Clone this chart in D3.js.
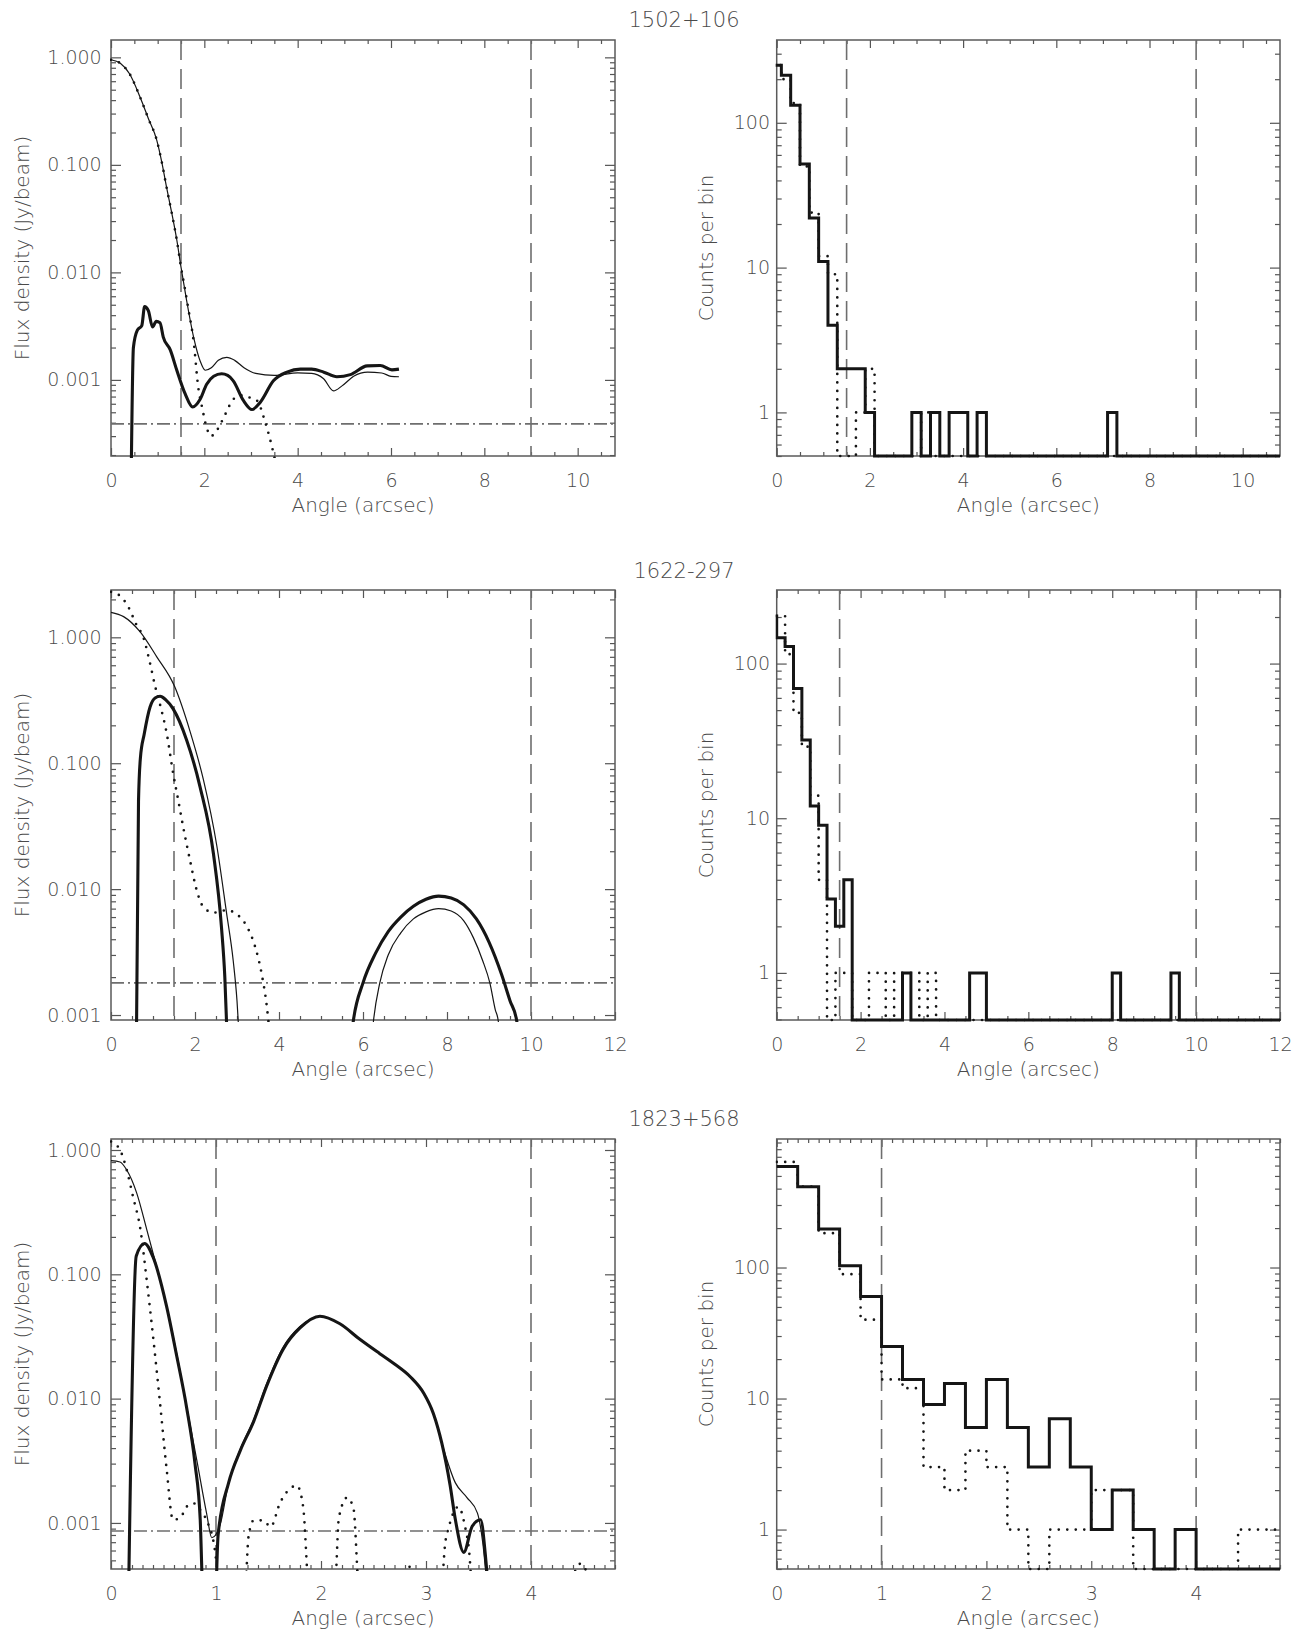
<!DOCTYPE html>
<html>
<head>
<meta charset="utf-8">
<script src="https://cdn.jsdelivr.net/npm/d3@7"></script>
<style>
  html, body { margin: 0; padding: 0; background: #fff; }
  svg { display: block; }
  text { font-family: "DejaVu Sans", sans-serif; font-weight: 300; fill: #4a4a4a; }
  .axis text { font-size: 19px; }
  .axis line { stroke-width: 1.2; }
  .title { font-size: 21px; }
  .axis-title { font-size: 20px; }
</style>
</head>
<body>
<svg id="fig" width="1302" height="1634"></svg>
<script>
// ---------------------------------------------------------------------------
// Sources, axis ranges and reference radii
// ---------------------------------------------------------------------------
const sourceNames = ["1502+106", "1622-297", "1823+568"];
const angleMax = [10.8, 12, 4.8];
const angleMajorTicks = [[0, 2, 4, 6, 8, 10], [0, 2, 4, 6, 8, 10, 12], [0, 1, 2, 3, 4]];
const angleMinorStep = [0.5, 0.5, 0.1];
const fluxDomain = [[0.000196, 1.45], [0.000913, 2.376], [0.000426, 1.226]];
const countDomain = [[0.5, 373], [0.496, 299], [0.5, 957]];
const fluxTicks = [0.001, 0.01, 0.1, 1];
const fluxTickLabels = ["0.001", "0.010", "0.100", "1.000"];
const countTicks = [1, 10, 100];
const countTickLabels = ["1", "10", "100"];
const innerRadius = [1.5, 1.5, 1];
const outerRadius = [9, 10, 4];
const noiseFloor = [0.00039, 0.0018, 0.00086];

// ---------------------------------------------------------------------------
// 1502+106 radial flux profiles (arcsec, Jy/beam)
// ---------------------------------------------------------------------------
const p1SourceAngle = [0, 0.2, 0.4, 0.62, 0.8, 0.98, 1.1, 1.19, 1.3, 1.41, 1.5, 1.62, 1.77, 1.91, 2.02, 2.15, 2.3, 2.48, 2.65, 2.85, 3.1, 3.5, 4.0, 4.3, 4.55, 4.77, 4.95, 5.2, 5.5, 5.8, 6.0, 6.17];
const p1SourceFlux = [0.95, 0.88, 0.70, 0.43, 0.27, 0.17, 0.10, 0.062, 0.036, 0.020, 0.0112, 0.0055, 0.0025, 0.0015, 0.00123, 0.0013, 0.00152, 0.00162, 0.00152, 0.0013, 0.00115, 0.0011, 0.00116, 0.00115, 0.00103, 0.00079, 0.00088, 0.00108, 0.00118, 0.00116, 0.00108, 0.00107];
const p1ExtAngle = [0.43, 0.48, 0.565, 0.66, 0.72, 0.80, 0.89, 0.97, 1.05, 1.12, 1.27, 1.41, 1.59, 1.75, 1.91, 2.05, 2.2, 2.37, 2.5, 2.62, 2.84, 3.02, 3.2, 3.48, 3.77, 4.06, 4.3, 4.56, 4.84, 5.13, 5.49, 5.77, 6.02, 6.17];
const p1ExtFlux = [0.0001, 0.0020, 0.0029, 0.0032, 0.0048, 0.0044, 0.0031, 0.0035, 0.0034, 0.0025, 0.0019, 0.00123, 0.00074, 0.00056, 0.00066, 0.00091, 0.00108, 0.00114, 0.0011, 0.00098, 0.00064, 0.00053, 0.00062, 0.00098, 0.00118, 0.00126, 0.00126, 0.00118, 0.00107, 0.00112, 0.00135, 0.00136, 0.00124, 0.00126];
const p1PsfAngle = [0, 0.2, 0.4, 0.62, 0.8, 0.98, 1.1, 1.19, 1.3, 1.41, 1.5, 1.58, 1.66, 1.77, 1.87, 1.95, 2.05, 2.14, 2.27, 2.45, 2.62, 2.8, 2.95, 3.13, 3.30, 3.48, 3.6];
const p1PsfFlux = [0.95, 0.88, 0.70, 0.43, 0.27, 0.17, 0.10, 0.062, 0.036, 0.020, 0.0112, 0.0072, 0.0045, 0.0023, 0.00085, 0.00056, 0.00036, 0.0003, 0.00034, 0.00048, 0.00066, 0.00072, 0.00069, 0.00064, 0.00041, 0.00021, 0.00012];

// ---------------------------------------------------------------------------
// 1622-297 radial flux profiles
// ---------------------------------------------------------------------------
const p2SourceAngle = [0, 0.3, 0.69, 1.09, 1.51, 1.88, 2.2, 2.52, 2.75, 2.91, 3.0, 3.06];
const p2SourceFlux = [1.58, 1.46, 1.11, 0.70, 0.41, 0.18, 0.074, 0.022, 0.0065, 0.0027, 0.0013, 0.0006];
const p2ExtAngle = [0.60, 0.655, 0.70, 0.79, 0.93, 1.05, 1.17, 1.3, 1.48, 1.80, 2.12, 2.44, 2.63, 2.71, 2.77];
const p2ExtFlux = [0.0004, 0.05, 0.11, 0.17, 0.28, 0.33, 0.34, 0.32, 0.27, 0.153, 0.065, 0.019, 0.005, 0.002, 0.0006];
const p2PsfAngle = [0, 0.25, 0.41, 0.61, 0.77, 0.93, 1.05, 1.17, 1.33, 1.48, 1.6, 1.72, 1.88, 2.04, 2.2, 2.44, 2.75, 3.07, 3.27, 3.43, 3.59, 3.71, 3.78];
const p2PsfFlux = [2.3, 2.08, 1.75, 1.25, 1.0, 0.62, 0.41, 0.29, 0.17, 0.083, 0.051, 0.031, 0.017, 0.0098, 0.0072, 0.0065, 0.0068, 0.006, 0.0048, 0.0035, 0.0021, 0.00117, 0.0007];
// outer component around 8 arcsec
const p2OuterSourceAngle = [6.18, 6.25, 6.4, 6.6, 6.9, 7.2, 7.5, 7.8, 8.1, 8.4, 8.63, 8.85, 9.02, 9.15, 9.22, 9.27];
const p2OuterSourceFlux = [0.0005, 0.0009, 0.0018, 0.0030, 0.0045, 0.0058, 0.0066, 0.0070, 0.0067, 0.0056, 0.0041, 0.0027, 0.0018, 0.0011, 0.0009, 0.0006];
const p2OuterExtAngle = [5.68, 5.77, 6.0, 6.3, 6.6, 6.9, 7.2, 7.5, 7.8, 8.1, 8.4, 8.7, 9.0, 9.3, 9.5, 9.66, 9.72];
const p2OuterExtFlux = [0.0005, 0.0009, 0.0018, 0.0031, 0.0046, 0.0060, 0.0073, 0.0083, 0.0088, 0.0085, 0.0075, 0.0058, 0.0038, 0.0021, 0.0013, 0.0009, 0.0006];

// ---------------------------------------------------------------------------
// 1823+568 radial flux profiles
// ---------------------------------------------------------------------------
const p3SourceAngle = [0, 0.086, 0.15, 0.245, 0.34, 0.435, 0.53, 0.626, 0.72, 0.817, 0.91, 0.96, 1.04, 1.12, 1.23, 1.36, 1.48, 1.64, 1.80, 1.99, 2.18, 2.37, 2.56, 2.7, 2.85, 2.98, 3.07, 3.15, 3.28, 3.39, 3.49, 3.54, 3.6];
const p3SourceFlux = [0.82, 0.80, 0.69, 0.45, 0.23, 0.115, 0.055, 0.023, 0.0087, 0.0032, 0.0012, 0.00076, 0.00097, 0.0021, 0.0039, 0.0068, 0.013, 0.026, 0.038, 0.046, 0.040, 0.030, 0.023, 0.019, 0.015, 0.011, 0.0076, 0.0044, 0.0021, 0.0016, 0.0012, 0.0007, 0.0002];
const p3ExtAngle = [0.16, 0.24, 0.32, 0.40, 0.53, 0.626, 0.72, 0.80, 0.85, 0.88, 0.98, 1.02, 1.12, 1.23, 1.36, 1.48, 1.64, 1.80, 1.99, 2.18, 2.37, 2.56, 2.7, 2.85, 2.98, 3.07, 3.15, 3.23, 3.28, 3.36, 3.44, 3.52, 3.57, 3.63];
const p3ExtFlux = [0.0001, 0.14, 0.177, 0.138, 0.055, 0.022, 0.0085, 0.003, 0.00105, 0.0002, 0.0001, 0.0008, 0.0021, 0.0038, 0.0066, 0.0125, 0.025, 0.037, 0.046, 0.040, 0.030, 0.023, 0.019, 0.015, 0.011, 0.0076, 0.0044, 0.0020, 0.00106, 0.00058, 0.00094, 0.00106, 0.0005, 0.0001];
const p3PsfAngle = [0.0, 0.086, 0.15, 0.21, 0.28, 0.34, 0.40, 0.467, 0.53, 0.59, 0.66, 0.72, 0.785, 0.85, 0.91, 0.99, 1.03, 1.15, 1.28, 1.31, 1.36, 1.45, 1.52, 1.61, 1.71, 1.77, 1.83, 1.88, 2.0, 2.135, 2.17, 2.25, 2.31, 2.36, 2.6, 2.8, 2.85, 2.9, 3.0, 3.15, 3.18, 3.22, 3.31, 3.37, 3.41, 3.44, 3.7, 4.4, 4.47, 4.55, 4.7];
const p3PsfFlux = [1.17, 1.0, 0.69, 0.42, 0.23, 0.09, 0.032, 0.0092, 0.0027, 0.00106, 0.0011, 0.00135, 0.00144, 0.00127, 0.00105, 0.0006, 0.0003, 0.0001, 0.0003, 0.00078, 0.00105, 0.00105, 0.00093, 0.00145, 0.0019, 0.0020, 0.00135, 0.0003, 0.0001, 0.0003, 0.0011, 0.0016, 0.0013, 0.0003, 0.0001, 0.0003, 0.00045, 0.0003, 0.0001, 0.0003, 0.00065, 0.00094, 0.00135, 0.00095, 0.0006, 0.0003, 0.0001, 0.00038, 0.00047, 0.00038, 0.0002];

// ---------------------------------------------------------------------------
// Radial count histograms: first bin centre, bin width, counts per bin
// ---------------------------------------------------------------------------
const binWidth = 0.2;
const h1FirstBin = 0;
const h1CountsSource = [250, 213, 132, 52, 22, 11, 4, 2, 2, 2, 1, 0, 0, 0, 0, 1, 0, 1, 0, 1, 1, 0, 1, 0, 0, 0, 0, 0, 0, 0, 0, 0, 0, 0, 0, 0, 1];
const h1CountsPsf = [250, 200, 137, 50, 24, 12, 9, 0, 0, 1, 2, 0, 0, 0, 0, 0, 1];
const h2FirstBin = -0.1;
const h2CountsSource = [203, 147, 129, 69, 32, 12, 9, 3, 2, 4, 0, 0, 0, 0, 0, 0, 1, 0, 0, 0, 0, 0, 0, 0, 1, 1, 0, 0, 0, 0, 0, 0, 0, 0, 0, 0, 0, 0, 0, 0, 0, 1, 0, 0, 0, 0, 0, 0, 1];
const h2CountsPsf = [203, 203, 115, 48, 29, 14, 4, 0, 1, 1, 0, 0, 1, 1, 0, 1, 1, 1, 0, 1, 0];
const h3FirstBin = 0.1;
const h3CountsSource = [590, 414, 197, 103, 60, 25, 14, 9, 13, 6, 14, 6, 3, 7, 3, 1, 2, 1, 0, 1];
const h3CountsPsf = [640, 414, 183, 89, 40, 14, 12, 3, 2, 4, 3, 1, 0, 1, 1, 2, 2, 0, 0, 0, 0, 0, 1, 1, 1];

// ---------------------------------------------------------------------------
// Figure assembly
// ---------------------------------------------------------------------------
const profiles = [
  { source: [p1SourceAngle, p1SourceFlux], ext: [p1ExtAngle, p1ExtFlux], psf: [p1PsfAngle, p1PsfFlux], outer: [] },
  { source: [p2SourceAngle, p2SourceFlux], ext: [p2ExtAngle, p2ExtFlux], psf: [p2PsfAngle, p2PsfFlux],
    outer: [[p2OuterSourceAngle, p2OuterSourceFlux, "thin"], [p2OuterExtAngle, p2OuterExtFlux, "thick"]] },
  { source: [p3SourceAngle, p3SourceFlux], ext: [p3ExtAngle, p3ExtFlux], psf: [p3PsfAngle, p3PsfFlux], outer: [] }
];
const histograms = [
  { first: h1FirstBin, src: h1CountsSource, psf: h1CountsPsf },
  { first: h2FirstBin, src: h2CountsSource, psf: h2CountsPsf },
  { first: h3FirstBin, src: h3CountsSource, psf: h3CountsPsf }
];

const svg = d3.select("#fig");
const colLeft = [111, 615];
const colRight = [776.7, 1280];
const rows = [[40, 456], [590, 1020], [1139, 1569]];
const titleBaseline = [26.7, 578.3, 1125.5];

const zip = (a, b) => a.map((v, i) => [v, b[i]]);

function logMinor(dom) {
  const out = [];
  for (let e = Math.floor(Math.log10(dom[0])); e <= Math.ceil(Math.log10(dom[1])); e++) {
    for (let k = 2; k <= 9; k++) {
      const v = k * Math.pow(10, e);
      if (v >= dom[0] && v <= dom[1]) out.push(v);
    }
  }
  return out;
}

let clipCount = 0;
function drawFrame(xs, ys, o) {
  const [x0, x1] = xs.range();
  const [y1, y0] = ys.range();
  const g = svg.append("g");
  const xMinor = d3.range(0, xs.domain()[1] + 1e-9, o.minorStep)
    .filter(v => !o.majorX.some(m => Math.abs(m - v) < 1e-6));
  const yMinor = logMinor(ys.domain());
  const axis = (gen, tx, ty) => g.append("g").attr("class", "axis").attr("color", "#555")
    .attr("transform", `translate(${tx},${ty})`)
    .call(gen).call(s => s.select(".domain").remove())
    .attr("font-size", null).attr("font-family", null);

  // bottom / top angle ticks
  axis(d3.axisBottom(xs).tickValues(o.majorX).tickSize(-8).tickPadding(18).tickFormat(d3.format("d")), 0, y1);
  axis(d3.axisBottom(xs).tickValues(xMinor).tickSize(-4).tickFormat(""), 0, y1);
  axis(d3.axisTop(xs).tickValues(o.majorX).tickSize(-8).tickFormat(""), 0, y0);
  axis(d3.axisTop(xs).tickValues(xMinor).tickSize(-4).tickFormat(""), 0, y0);
  // left / right logarithmic ticks
  axis(d3.axisLeft(ys).tickValues(o.yTicks).tickSize(-10).tickPadding(o.labelPad)
    .tickFormat((d, i) => o.yLabels[i]), x0, 0);
  axis(d3.axisLeft(ys).tickValues(yMinor).tickSize(-5).tickFormat(""), x0, 0);
  axis(d3.axisRight(ys).tickValues(o.yTicks).tickSize(-10).tickFormat(""), x1, 0);
  axis(d3.axisRight(ys).tickValues(yMinor).tickSize(-5).tickFormat(""), x1, 0);

  g.append("rect").attr("x", x0).attr("y", y0).attr("width", x1 - x0).attr("height", y1 - y0)
    .attr("fill", "none").attr("stroke", "#5a5a5a").attr("stroke-width", 1.5);

  g.append("text").attr("class", "axis-title").attr("text-anchor", "middle")
    .attr("x", (x0 + x1) / 2).attr("y", y1 + 56).text("Angle (arcsec)");
  g.append("text").attr("class", "axis-title").attr("text-anchor", "middle")
    .attr("transform", `translate(${o.yTitleX},${(y0 + y1) / 2}) rotate(-90)`).text(o.yTitle);

  const id = "clip" + (clipCount++);
  svg.append("clipPath").attr("id", id).append("rect")
    .attr("x", x0 - 1).attr("y", y0 - 1).attr("width", x1 - x0 + 2).attr("height", y1 - y0 + 3);
  const plot = svg.append("g").attr("clip-path", `url(#${id})`);

  // reference radii and noise level
  [o.inner, o.outer].forEach(r => {
    plot.append("line").attr("x1", xs(r)).attr("x2", xs(r)).attr("y1", y0).attr("y2", y1)
      .attr("stroke", "#6e6e6e").attr("stroke-width", 1.6).attr("stroke-dasharray", "20,9");
  });
  if (o.noise !== undefined) {
    plot.append("line").attr("x1", x0).attr("x2", x1).attr("y1", ys(o.noise)).attr("y2", ys(o.noise))
      .attr("stroke", "#6e6e6e").attr("stroke-width", 1.6).attr("stroke-dasharray", "13,4,2,4");
  }
  return plot;
}

const styles = {
  thin:   { w: 1.2, dash: null },
  thick:  { w: 3.1, dash: null },
  dotted: { w: 2.7, dash: "0,8.5" }
};
function styled(sel, kind) {
  const s = styles[kind];
  sel.attr("fill", "none").attr("stroke", "#151515").attr("stroke-width", s.w)
    .attr("stroke-linejoin", "round");
  if (s.dash) sel.attr("stroke-dasharray", s.dash).attr("stroke-linecap", "round");
  return sel;
}

// IDL-like histogram steps: each bin drawn over its full width, empty bins on the floor
function stepPoints(first, w, counts, xs, ys, xmax, floor) {
  const pts = [];
  counts.forEach((c, i) => {
    const centre = first + i * w;
    const y = ys(Math.max(c, floor));
    pts.push([xs(centre - w / 2), y], [xs(centre + w / 2), y]);
  });
  const end = first + (counts.length - 0.5) * w;
  if (end < xmax) pts.push([xs(end), ys(floor)], [xs(xmax), ys(floor)]);
  return pts;
}

sourceNames.forEach((name, r) => {
  const [y0, y1] = rows[r];

  // ---- flux profile panel ----
  const xs = d3.scaleLinear().domain([0, angleMax[r]]).range(colLeft);
  const ys = d3.scaleLog().domain(fluxDomain[r]).range([y1, y0]);
  const plotL = drawFrame(xs, ys, {
    majorX: angleMajorTicks[r], minorStep: angleMinorStep[r],
    yTicks: fluxTicks, yLabels: fluxTickLabels, labelPad: 9.3,
    yTitle: "Flux density (Jy/beam)", yTitleX: 28.5,
    inner: innerRadius[r], outer: outerRadius[r], noise: noiseFloor[r]
  });
  const line = d3.line().x(d => xs(d[0])).y(d => ys(d[1])).curve(d3.curveMonotoneX);
  const pr = profiles[r];
  styled(plotL.append("path").attr("d", line(zip(...pr.psf))), "dotted");
  styled(plotL.append("path").attr("d", line(zip(...pr.source))), "thin");
  styled(plotL.append("path").attr("d", line(zip(...pr.ext))), "thick");
  pr.outer.forEach(([a, f, kind]) => styled(plotL.append("path").attr("d", line(zip(a, f))), kind));

  // ---- count histogram panel ----
  const xh = d3.scaleLinear().domain([0, angleMax[r]]).range(colRight);
  const yh = d3.scaleLog().domain(countDomain[r]).range([y1, y0]);
  const plotR = drawFrame(xh, yh, {
    majorX: angleMajorTicks[r], minorStep: angleMinorStep[r],
    yTicks: countTicks, yLabels: countTickLabels, labelPad: 6.7,
    yTitle: "Counts per bin", yTitleX: 713,
    inner: innerRadius[r], outer: outerRadius[r]
  });
  const h = histograms[r];
  const floor = countDomain[r][0];
  const raw = d3.line();
  styled(plotR.append("path").attr("d", raw(stepPoints(h.first, binWidth, h.psf, xh, yh, angleMax[r], floor))), "dotted")
    .attr("stroke-linejoin", "miter");
  styled(plotR.append("path").attr("d", raw(stepPoints(h.first, binWidth, h.src, xh, yh, angleMax[r], floor))), "thick")
    .attr("stroke-width", 3).attr("stroke-linejoin", "miter");

  // source name above the pair of panels
  svg.append("text").attr("class", "title").attr("text-anchor", "middle")
    .attr("x", 684).attr("y", titleBaseline[r]).text(name);
});
</script>
</body>
</html>
